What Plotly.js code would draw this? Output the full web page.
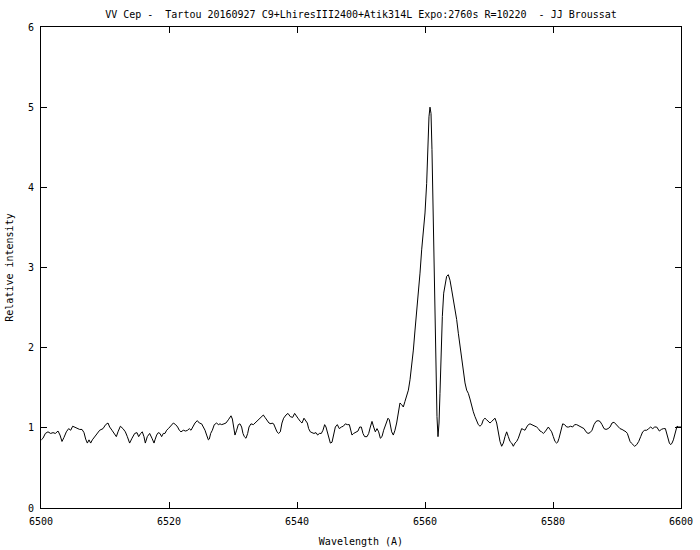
<!DOCTYPE html>
<html>
<head>
<meta charset="utf-8">
<script src="https://cdn.plot.ly/plotly-3.0.1.min.js"></script>
<style>html,body{margin:0;padding:0;background:#fff;}#chart{width:700px;height:550px;}</style>
</head>
<body>
<div id="chart"></div>
<script>
// Wavelength (Angstrom) and relative intensity
const wavelength = [
6500.05,6500.31,6500.68,6501.09,6501.51,6501.88,6502.24,6502.66,6502.97,6503.28,6503.59,6503.96,6504.32,6504.64,6504.95,6505.26,6505.68,6506.04,6506.41,6506.72,6506.98,6507.24,6507.5,6507.76,6508.02,6508.39,6508.8,6509.17,6509.69,6510.1,6510.47,6510.73,6511.09,6511.4,6511.77,6512.03,6512.4,6512.81,6513.18,6513.49,6513.85,6514.22,6514.64,6515.0,6515.26,6515.57,6515.83,6516.09,6516.3,6516.61,6516.98,6517.34,6517.66,
6517.81,6518.07,6518.33,6518.59,6518.85,6519.11,6519.37,6519.63,6519.9,6520.26,6520.68,6521.04,6521.35,6521.61,6521.87,6522.24,6522.6,6522.91,6523.17,6523.44,6523.7,6524.06,6524.42,6524.74,6525.1,6525.42,6525.63,6525.88,6526.15,6526.3,6526.51,6526.77,6527.08,6527.45,6527.71,6527.97,6528.23,6528.59,6528.9,6529.27,6529.53,6529.69,6529.9,6530.1,6530.31,6530.57,6530.83,6531.09,6531.35,6531.56,6531.77,6532.03,6532.29,6532.5,6532.81,6533.18,6533.44,6533.75,6534.06,6534.38,6534.74,6535.0,6535.31,6535.62,6535.94,
6536.09,6536.35,6536.61,6536.87,6537.13,6537.39,6537.65,6537.91,6538.28,6538.59,6538.95,6539.32,6539.63,6539.89,6540.15,6540.52,6540.78,6541.09,6541.3,6541.61,6541.82,6542.08,6542.34,6542.65,6542.97,6543.23,6543.49,6543.8,6544.06,6544.32,6544.53,6544.74,6544.95,6545.21,6545.47,6545.73,6545.99,6546.3,6546.61,6546.93,6547.24,6547.55,6547.86,6548.18,6548.39,6548.59,6548.85,6549.22,6549.53,6549.79,6550.05,6550.31,6550.57,6550.94,6551.2,6551.46,6551.72,6551.98,6552.24,6552.5,6552.76,6553.02,6553.28,6553.54,6553.91,6554.22,6554.43,
6554.79,6555.05,6555.31,6555.57,6555.83,6556.09,6556.35,6556.61,6556.87,6557.13,6557.4,6557.66,6557.92,6558.18,6558.44,6558.7,6558.96,6559.22,6559.48,6559.74,6560.0,6560.26,6560.42,6560.62,6560.78,6560.94,6561.09,6561.25,6561.41,6561.56,6561.72,6561.87,6562.03,6562.19,6562.34,6562.5,6562.71,6562.92,6563.12,6563.38,6563.64,6563.91,6564.17,6564.43,6564.69,6564.95,6565.21,6565.47,6565.73,6565.99,6566.25,6566.51,6566.77,
6567.03,6567.29,6567.55,6567.81,6568.07,6568.33,6568.59,6568.85,6569.11,6569.37,6569.64,6569.9,6570.16,6570.42,6570.68,6570.94,6571.2,6571.46,6571.72,6571.98,6572.24,6572.5,6572.76,6573.02,6573.28,6573.54,6573.8,6574.06,6574.32,6574.58,6574.84,6575.1,6575.36,6575.62,6575.89,6576.15,6576.41,6576.67,6576.93,6577.19,6577.45,6577.71,6577.97,6578.23,6578.49,6578.75,6579.01,6579.27,6579.53,6579.79,6580.05,6580.31,6580.57,6580.73,6580.94,6581.2,6581.51,6581.82,6582.14,6582.45,6582.76,6583.07,6583.38,6583.7,
6584.17,6584.53,6584.85,6585.16,6585.47,6585.79,6586.1,6586.41,6586.72,6587.04,6587.35,6587.66,6587.97,6588.29,6588.6,6588.91,6589.22,6589.54,6589.85,6590.16,6590.47,6590.79,6591.1,6591.41,6591.62,6591.83,6592.04,6592.24,6592.5,6592.76,6593.08,6593.39,6593.7,6594.01,6594.33,6594.64,6594.95,6595.26,6595.58,6595.89,6596.2,6596.41,6596.62,6596.93,6597.24,6597.56,6597.76,6597.97,6598.18,6598.39,6598.6,6598.81,6599.01,6599.22,6599.38,6599.64,6599.84,6600.0
];
const intensity = [
0.85,0.87,0.93,0.95,0.93,0.94,0.93,0.96,0.91,0.83,0.88,0.95,0.99,0.97,1.02,1.01,0.99,0.98,0.98,0.94,0.86,0.81,0.85,0.81,0.85,0.89,0.94,0.97,0.99,1.04,1.06,1.01,0.97,0.93,0.89,0.95,1.02,0.99,0.95,0.89,0.81,0.87,0.93,0.94,0.89,0.93,0.95,0.89,0.81,0.89,0.93,0.87,0.81,
0.85,0.91,0.94,0.93,0.89,0.93,0.93,0.97,0.99,1.02,1.06,1.04,1.01,0.97,0.95,0.97,0.96,0.97,0.99,0.97,1.01,1.06,1.09,1.06,1.05,1.01,0.97,0.91,0.85,0.86,0.93,0.97,1.04,1.06,1.04,1.05,1.04,1.05,1.06,1.1,1.13,1.15,1.11,1.01,0.91,0.97,1.04,1.05,1.01,0.93,0.89,0.87,0.93,1.01,1.05,1.04,1.06,1.08,1.1,1.13,1.16,1.13,1.09,1.06,1.05,
1.06,1.05,0.99,0.95,0.93,0.95,1.06,1.12,1.16,1.18,1.14,1.13,1.18,1.14,1.12,1.08,1.06,1.12,1.1,1.06,0.99,0.95,0.94,0.93,0.94,0.91,0.93,0.93,0.97,1.04,1.01,0.95,0.87,0.81,0.82,0.91,1.01,1.04,0.99,1.01,1.02,1.05,1.04,1.04,0.95,0.91,0.93,0.95,0.96,1.01,1.01,0.93,0.89,0.89,0.93,1.01,1.08,1.01,0.95,0.99,0.95,0.87,0.89,0.97,1.06,1.12,1.1,
0.95,0.91,0.97,1.06,1.2,1.31,1.29,1.26,1.33,1.39,1.47,1.6,1.76,1.97,2.22,2.43,2.64,2.93,3.22,3.43,3.68,4.05,4.47,4.88,5.0,4.92,4.47,3.84,3.01,2.18,1.64,1.14,0.89,1.06,1.43,1.93,2.39,2.68,2.8,2.89,2.91,2.84,2.72,2.59,2.51,2.35,2.18,2.01,1.85,1.68,1.56,1.47,1.43,
1.36,1.26,1.2,1.14,1.08,1.04,1.02,1.04,1.1,1.12,1.1,1.08,1.06,1.08,1.1,1.12,1.06,0.93,0.83,0.77,0.81,0.89,0.95,0.89,0.83,0.81,0.77,0.81,0.83,0.87,0.93,0.99,0.98,0.97,1.01,1.04,1.05,1.04,1.04,1.02,1.01,0.99,0.96,0.95,0.93,0.95,0.99,1.01,0.98,0.95,0.89,0.83,0.81,0.82,0.87,0.97,1.05,1.04,1.01,1.01,1.02,1.01,1.04,1.04,
1.02,1.01,0.99,0.95,0.93,0.94,0.97,1.04,1.08,1.09,1.08,1.04,0.99,0.98,0.99,1.01,1.06,1.07,1.04,1.01,0.99,0.98,0.97,0.95,0.93,0.87,0.83,0.81,0.79,0.77,0.79,0.83,0.89,0.95,0.97,0.97,0.99,1.01,0.99,1.01,1.01,0.98,0.96,0.98,0.99,0.99,0.93,0.87,0.81,0.79,0.81,0.85,0.91,0.99,1.02,1.01,1.01,1.01
];
const xTicks = [6500, 6520, 6540, 6560, 6580, 6600];
const yTicks = [0, 1, 2, 3, 4, 5, 6];
const titleText = "VV Cep -\u00a0\u00a0Tartou 20160927 C9+LhiresIII2400+Atik314L Expo:2760s R=10220\u00a0\u00a0- JJ Broussat";

const font = {family: "DejaVu Sans Mono, monospace", size: 10, color: "#000"};

const trace = {
  x: wavelength, y: intensity, type: "scatter", mode: "lines",
  line: {color: "#000", width: 1}, hoverinfo: "skip", showlegend: false
};

const axisCommon = {
  showline: true, linecolor: "#000", linewidth: 1, mirror: "allticks",
  ticks: "inside", ticklen: 6, tickcolor: "#000", tickwidth: 1,
  showgrid: false, zeroline: false, tickfont: font, ticklabelstandoff: 4
};

const layout = {
  width: 700, height: 550,
  margin: {l: 41, r: 19, t: 27, b: 42},
  paper_bgcolor: "#fff", plot_bgcolor: "#fff",
  font: font,
  title: {text: titleText, font: font, x: 0.5, xref: "paper", xanchor: "center", y: 0.9745, yref: "container", yanchor: "middle"},
  xaxis: Object.assign({}, axisCommon, {
    range: [6500, 6600], tickmode: "array", tickvals: xTicks, ticktext: xTicks.map(String),
    title: {text: "Wavelength (A)", font: font, standoff: 11}
  }),
  yaxis: Object.assign({}, axisCommon, {
    range: [0, 6], tickmode: "array", tickvals: yTicks, ticktext: yTicks.map(String),
    title: {text: "Relative intensity", font: font, standoff: 12}
  })
};

Plotly.newPlot("chart", [trace], layout, {staticPlot: true, displayModeBar: false});
</script>
</body>
</html>
